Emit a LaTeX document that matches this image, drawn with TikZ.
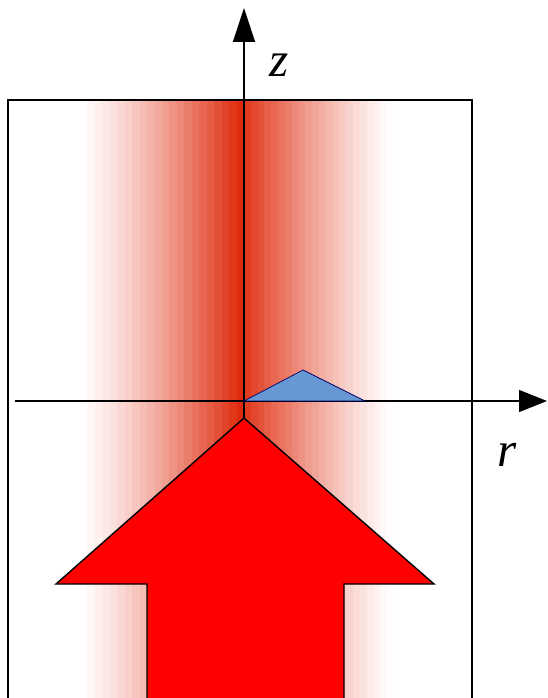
\documentclass[tikz,border=0pt]{standalone}
\usepackage{fontspec}
\setmainfont{Liberation Serif}
\usepackage{tikz}
\usetikzlibrary{arrows.meta,positioning,calc}

\definecolor{bandred}{RGB}{222,36,6}
\definecolor{wedgeblue}{RGB}{104,152,212}
\definecolor{arrowred}{RGB}{255,0,0}

\begin{document}
\begin{tikzpicture}[x=0.25cm,y=0.25cm,>=Triangle,
 axis/.style={line width=1pt},
 lbl/.style={font=\fontsize{35}{40}\selectfont\itshape,inner sep=0pt},
 frame/.style={line width=0.9pt},
 beam/.style={fill=arrowred,draw=black,line width=1pt,line join=miter}]
\useasboundingbox (-24.4,-29.7) rectangle (30.3,40.1);
% radial intensity bands
\foreach \i [evaluate=\i as \p using {100*((\i+0.5)/22)^1.25},
 evaluate=\i as \xa using {-16.4+16.4*\i/22},
 evaluate=\i as \xb using {-16.4+16.4*(\i+1)/22+0.05}] in {0,...,21}
 \fill[bandred!\p!white] (\xa,-31) rectangle (\xb,30.1);
\foreach \i [evaluate=\i as \q using {92*((21.5-\i)/22)^1.25},
 evaluate=\i as \xa using {15*\i/22},
 evaluate=\i as \xb using {15*(\i+1)/22+0.05}] in {0,...,21}
 \fill[bandred!\q!white] (\xa,-31) rectangle (\xb,30.1);
% domain
\draw[frame] (-23.6,-31) -- (-23.6,30.1) -- (22.8,30.1) -- (22.8,-31);
% axes
\coordinate (o) at (0,0);
\coordinate (zbase) at (0,-2);
\coordinate (ztip) at (0,39.3);
\coordinate (rbase) at (-22.9,0);
\coordinate (rtip) at (30.3,0);
\draw[axis,-{Triangle[length=8.5mm,width=5.5mm]}] (zbase) -- (ztip);
\draw[axis,-{Triangle[length=7mm,width=5.5mm]}] (rbase) -- (rtip);
\node[lbl] (zlab) at (3.5,33.6) {z};
\node[lbl] (rlab) at (26.3,-5.4) {r};
% wedge
\draw[fill=wedgeblue,draw=blue!40!black,line width=0.5pt] (o) -- (5.9,3.1) -- (12.1,0) -- cycle;
% incoming beam
\draw[beam] (0,-1.7) -- (19.0,-18.3) -- (10.0,-18.3) -- (10.0,-31)
 -- (-9.7,-31) -- (-9.7,-18.3) -- (-18.8,-18.3) -- cycle;
\end{tikzpicture}
\end{document}
